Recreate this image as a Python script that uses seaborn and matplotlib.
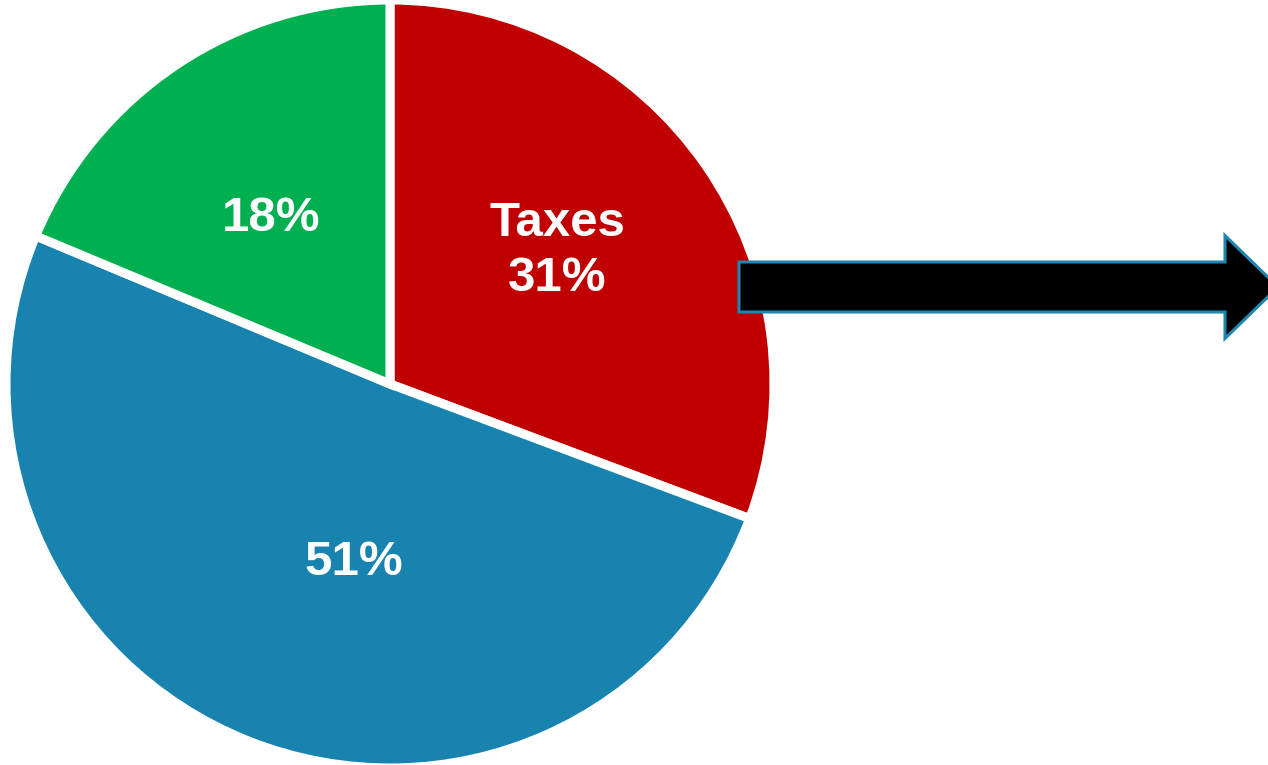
import matplotlib
matplotlib.use("Agg")
import matplotlib.pyplot as plt
from matplotlib.patches import FancyArrow
import seaborn as sns

# slice data, clockwise from 12 o'clock (shares)
SHARES = [30.7, 50.6, 18.7]
LABELS = ['Taxes\n31%', '51%', '18%']
COLORS = ['#C00000', '#1783AE', '#00B050']

FIG_W, FIG_H = 1268, 765
DPI = 100

sns.set_theme(style='white')
plt.rcParams['font.family'] = ['Liberation Sans', 'DejaVu Sans']

fig = plt.figure(figsize=(FIG_W / DPI, FIG_H / DPI), dpi=DPI)
ax = fig.add_axes([0, 0, 1, 1])

# pie in pixel coordinates (y measured upward)
center = (390, FIG_H - 384)
radius = 384
wedges, texts = ax.pie(
	SHARES, colors=COLORS, startangle=90, counterclock=False,
	center=center, radius=radius,
	wedgeprops=dict(edgecolor='white', linewidth=6.5),
)

# label positions, as fractions of the radius
label_pos = [(0.435, 0.347), (-0.095, -0.465), (-0.31, 0.43)]
for lab, (fx, fy) in zip(LABELS, label_pos):
	ax.text(center[0] + fx * radius, center[1] + fy * radius, lab,
		ha='center', va='center', color='white', fontsize=35.5,
		fontweight='bold', linespacing=1.29)

# arrow pointing right
arr = FancyArrow(739, FIG_H - 287, 539, 0, width=50, head_width=103,
	head_length=53, length_includes_head=True,
	facecolor='black', edgecolor='#1F86B0', linewidth=2.2, zorder=5)
ax.add_patch(arr)

ax.set_xlim(0, FIG_W)
ax.set_ylim(0, FIG_H)
ax.set_aspect('equal')
ax.axis('off')

fig.savefig('out.png', dpi=DPI, facecolor='white')
